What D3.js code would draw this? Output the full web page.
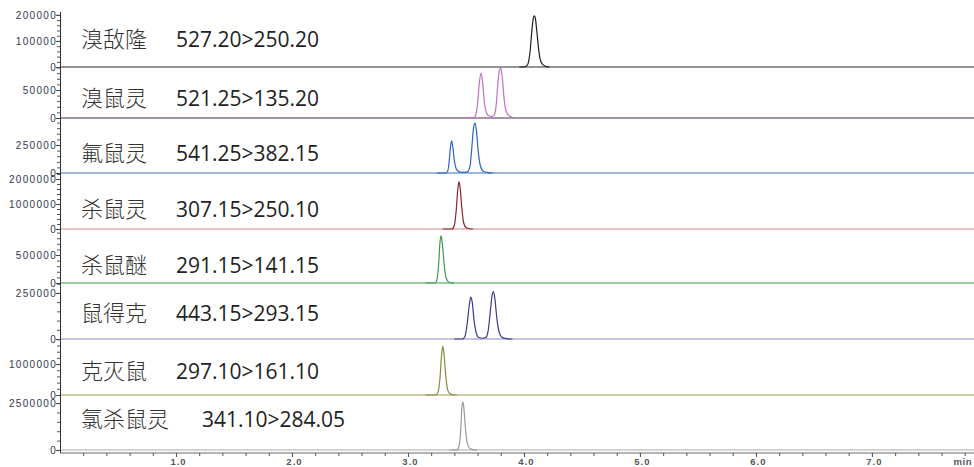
<!DOCTYPE html>
<html>
<head>
<meta charset="utf-8">
<script src="https://cdn.jsdelivr.net/npm/d3@7"></script>
<style>
  body { margin: 0; background: #fff; }
  svg { display: block; }
</style>
</head>
<body>
<div class="chart"></div>
<script>
// compound names and MRM transitions, top to bottom
const compounds = ["溴敌隆", "溴鼠灵", "氟鼠灵", "杀鼠灵", "杀鼠醚", "鼠得克", "克灭鼠", "氯杀鼠灵"];
const transitions = ["527.20>250.20", "521.25>135.20", "541.25>382.15", "307.15>250.10",
                     "291.15>141.15", "443.15>293.15", "297.10>161.10", "341.10>284.05"];

// intensity axis of each panel
const yMax = [211000, 91000, 491000, 2240000, 964000, 304000, 1810000, 2930000];
const yMajorTicks = [
    [0, 100000, 200000],
    [0, 50000],
    [0, 250000],
    [0, 1000000, 2000000],
    [0, 500000],
    [0, 250000],
    [0, 1000000],
    [0, 2500000]
];
const yMinorStep = [20000, 10000, 50000, 200000, 100000, 50000, 200000, 500000];

// retention time axis (min)
const xMax = 7.88;
const xMajorTicks = [1, 2, 3, 4, 5, 6, 7];

// traces: [time (min), intensity]
const trace1 = [[3.96,0],[4.00,0],[4.03,8000],[4.05,49000],[4.07,147000],[4.08,186000],[4.09,196000],
    [4.10,182000],[4.11,141000],[4.13,55000],[4.15,16000],[4.18,4000],[4.22,0]];
const trace2 = [[3.50,0],[3.56,0],[3.58,3000],[3.60,25000],[3.615,62000],[3.63,80000],[3.645,60000],
    [3.66,26000],[3.68,8000],[3.70,3500],[3.72,3000],[3.74,4000],[3.76,22000],[3.775,62000],[3.79,86000],
    [3.80,89000],[3.815,68000],[3.83,32000],[3.85,10000],[3.88,3000],[3.92,0]];
const trace3 = [[3.25,0],[3.32,0],[3.34,10000],[3.355,100000],[3.365,220000],[3.376,286000],[3.387,230000],
    [3.40,110000],[3.42,30000],[3.45,8000],[3.48,6000],[3.51,10000],[3.535,60000],[3.55,220000],
    [3.565,400000],[3.578,446000],[3.59,380000],[3.605,200000],[3.625,60000],[3.65,15000],[3.69,3000],[3.73,0]];
const trace4 = [[3.30,0],[3.38,0],[3.40,150000],[3.415,700000],[3.43,1600000],[3.44,1900000],[3.45,1650000],
    [3.465,800000],[3.48,250000],[3.50,60000],[3.53,10000],[3.56,0]];
const trace5 = [[3.15,0],[3.23,0],[3.25,60000],[3.265,350000],[3.275,700000],[3.285,840000],[3.295,720000],
    [3.31,380000],[3.325,120000],[3.345,30000],[3.37,5000],[3.40,0]];
const trace6 = [[3.40,0],[3.47,0],[3.49,12000],[3.51,80000],[3.53,190000],[3.543,227000],[3.555,195000],
    [3.57,100000],[3.59,30000],[3.61,8000],[3.64,4000],[3.67,8000],[3.69,40000],[3.71,150000],[3.725,235000],
    [3.736,257000],[3.75,215000],[3.765,120000],[3.785,40000],[3.81,10000],[3.85,2000],[3.90,0]];
const trace7 = [[3.15,0],[3.24,0],[3.26,100000],[3.275,500000],[3.29,1300000],[3.30,1580000],[3.31,1350000],
    [3.325,650000],[3.34,200000],[3.36,50000],[3.39,8000],[3.42,0]];
const trace8 = [[3.36,0],[3.42,0],[3.44,200000],[3.455,1100000],[3.465,2300000],[3.472,2550000],[3.48,2350000],
    [3.495,1200000],[3.51,400000],[3.53,100000],[3.56,20000],[3.60,0]];
const traces = [trace1, trace2, trace3, trace4, trace5, trace6, trace7, trace8];

// styling
const baseColors = ["#2a2a2a", "#4a2a4a", "#3d6cb5", "#c98a8a", "#3b9a52", "#8a8ac0", "#9a9a55", "#aaaaaa"];
const peakColors = ["#1e1e1e", "#c070c8", "#2f63b8", "#8b2323", "#3b9a52", "#3a3a88", "#88883a", "#999999"];

const dims = {width: 974, height: 467, left: 60, right: 974, top: 12, axisY: 453};
const panelBottoms = [67, 118, 173, 229, 283, 339, 395, 450];
const labelBaselines = [47, 106, 161, 217, 273, 321, 379, 427];
const numberX = [176, 176, 176, 176, 176, 176, 176, 202];

const svg = d3.select('.chart')
    .append('svg')
    .attr('width', dims.width)
    .attr('height', dims.height);

const x = d3.scaleLinear()
    .domain([0, xMax])
    .range([dims.left, dims.right]);

const line = d3.line()
    .x(d => x(d[0]))
    .curve(d3.curveMonotoneX);

traces.forEach((trace, i) => {
    const top = i === 0 ? dims.top : panelBottoms[i - 1];
    const y = d3.scaleLinear()
        .domain([0, yMax[i]])
        .range([panelBottoms[i], top]);

    const panel = svg.append('g');

    // minor ticks
    const minor = d3.range(yMinorStep[i], yMax[i], yMinorStep[i]);
    panel.append('g')
        .attr('transform', `translate(${dims.left},0)`)
        .call(d3.axisLeft(y).tickValues(minor).tickSize(3).tickFormat(''))
        .call(g => g.select('.domain').remove())
        .call(g => g.selectAll('.tick line').attr('stroke', '#555'));

    // major ticks with labels
    panel.append('g')
        .attr('transform', `translate(${dims.left},0)`)
        .call(d3.axisLeft(y).tickValues(yMajorTicks[i]).tickSize(4).tickPadding(-1).tickFormat(d3.format('d')))
        .call(g => g.select('.domain').remove())
        .call(g => g.selectAll('.tick line').attr('stroke', '#444'))
        .call(g => g.selectAll('.tick text')
            .attr('fill', '#33384f')
            .style('font', '10px "Liberation Sans", Arial, sans-serif')
            .style('letter-spacing', '1.3px'));

    // baseline
    panel.append('line')
        .attr('x1', dims.left)
        .attr('x2', dims.right)
        .attr('y1', y(0))
        .attr('y2', y(0))
        .attr('stroke', baseColors[i])
        .attr('stroke-width', 1.2);

    // trace
    panel.append('path')
        .attr('d', line.y(d => y(d[1]))(trace))
        .attr('fill', 'none')
        .attr('stroke', peakColors[i])
        .attr('stroke-width', 1.2)
        .attr('stroke-linejoin', 'round');

    // labels
    panel.append('text')
        .attr('x', 81)
        .attr('y', labelBaselines[i])
        .attr('fill', '#333')
        .style('font', '300 22px "Noto Sans CJK SC", sans-serif')
        .text(compounds[i]);

    panel.append('text')
        .attr('x', numberX[i])
        .attr('y', labelBaselines[i])
        .attr('fill', '#222')
        .style('font', '21px "Open Sans", sans-serif')
        .text(transitions[i]);
});

// left axis line
svg.append('line')
    .attr('x1', dims.left + 0.5)
    .attr('x2', dims.left + 0.5)
    .attr('y1', dims.top)
    .attr('y2', dims.axisY)
    .attr('stroke', '#333');

// bottom time axis
const xMinor = d3.range(0.2, xMax, 0.2);
svg.append('g')
    .attr('transform', `translate(0,${dims.axisY})`)
    .call(d3.axisBottom(x).tickValues(xMinor).tickSize(3).tickFormat(''))
    .call(g => g.select('.domain').attr('stroke', '#666').attr('d', `M${dims.left},0H${dims.right}`))
    .call(g => g.selectAll('.tick line').attr('stroke', '#555'));

svg.append('g')
    .attr('transform', `translate(0,${dims.axisY})`)
    .call(d3.axisBottom(x).tickValues(xMajorTicks).tickSize(4).tickPadding(1).tickFormat(d3.format('.1f')))
    .call(g => g.select('.domain').remove())
    .call(g => g.selectAll('.tick line').attr('stroke', '#555'))
    .call(g => g.selectAll('.tick text')
        .attr('fill', '#555')
        .attr('dx', 2)
        .style('font', 'bold 9.5px "Liberation Sans", Arial, sans-serif')
        .style('letter-spacing', '1px'));

svg.append('text')
    .attr('x', 972)
    .attr('y', 465)
    .attr('text-anchor', 'end')
    .attr('fill', '#555')
    .style('font', 'bold 9.5px "Liberation Sans", Arial, sans-serif')
    .style('letter-spacing', '0.5px')
    .text('min');
</script>
</body>
</html>
